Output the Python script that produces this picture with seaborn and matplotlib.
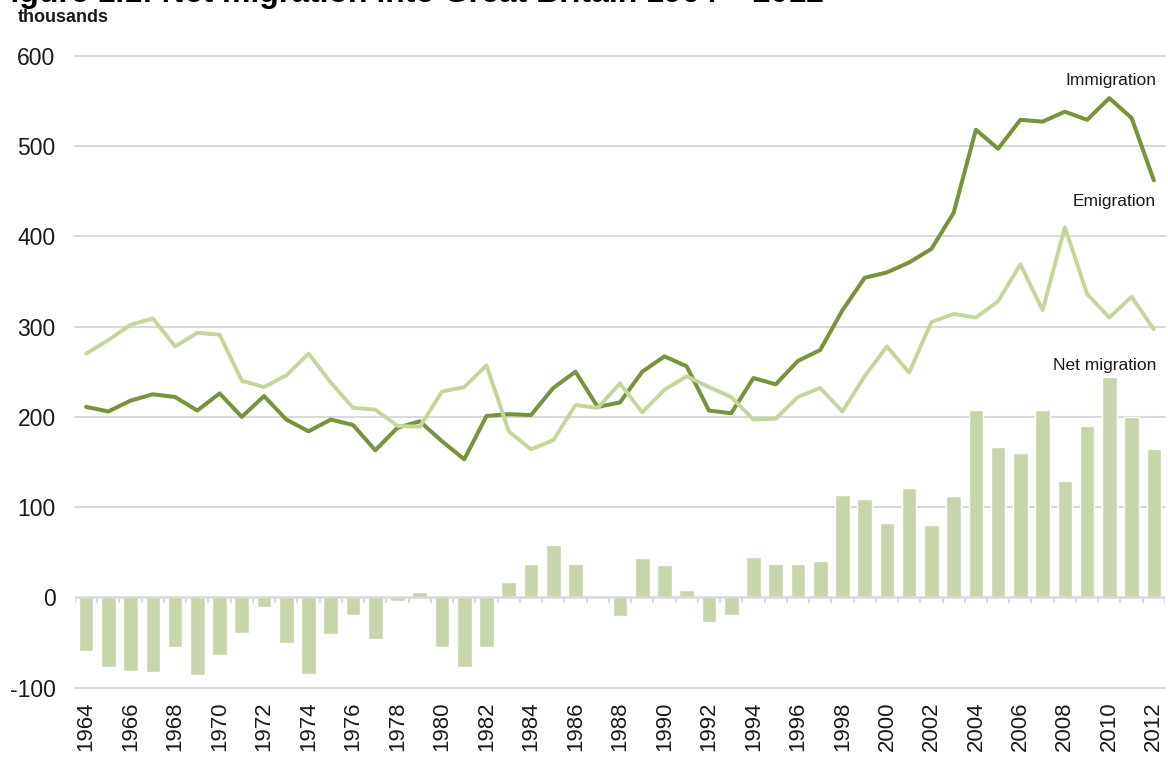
import numpy as np
import pandas as pd
import matplotlib
matplotlib.use("Agg")
import matplotlib.pyplot as plt
import seaborn as sns

# Data (thousands)
years = list(range(1964, 2013))
immigration = [211, 206, 218, 225, 222, 207, 226, 200, 223, 197,
               184, 197, 191, 163, 188, 195, 173, 153, 201, 203,
               202, 232, 250, 211, 216, 250, 267, 256, 207, 204,
               243, 236, 262, 274, 318, 354, 360, 371, 386, 426,
               518, 497, 529, 527, 538, 529, 553, 531, 462]
emigration = [270, 285, 302, 309, 278, 293, 291, 240, 233, 246,
              270, 238, 210, 208, 190, 189, 228, 233, 257, 184,
              164, 174, 213, 210, 237, 205, 230, 245, 233, 222,
              197, 198, 222, 232, 206, 245, 278, 249, 305, 314,
              310, 328, 369, 318, 410, 336, 310, 333, 297]
net_migration = [-59, -77, -81, -83, -55, -86, -64, -39, -11, -50,
                 -85, -41, -19, -46, -4, 6, -55, -77, -55, 17,
                 37, 58, 37, 2, -21, 44, 36, 8, -27, -19,
                 45, 37, 37, 40, 113, 109, 82, 121, 80, 112,
                 208, 167, 160, 208, 129, 190, 244, 200, 164]
series_labels = ["Immigration", "Emigration", "Net migration"]
label_y = [572, 438, 257]

dark_green = "#77933c"
light_green = "#c3d69b"
bar_green = "#c7d6aa"
grid_grey = "#d9d9d9"

df = pd.DataFrame({"year": years, "pos": np.arange(len(years)),
                   "immigration": immigration, "emigration": emigration,
                   "net": net_migration})

sns.set_style("white")
plt.rcParams["font.family"] = ["Liberation Sans", "DejaVu Sans"]

fig = plt.figure(figsize=(11.68, 7.6), dpi=100)
ax = fig.add_axes([0.0642, 0.0951, 0.9332, 0.8316])

# grid lines
for v in range(-100, 601, 100):
    if v != 0:
        ax.axhline(v, color=grid_grey, lw=1.5, zorder=0, clip_on=False)

# net migration bars
sns.barplot(data=df, x="pos", y="net", color=bar_green, width=0.66,
            saturation=1, ax=ax, zorder=1)

# zero axis line with tick marks between categories
ax.axhline(0, color=grid_grey, lw=1.8, zorder=2)
ax.vlines(np.arange(len(years) + 1) - 0.5, -6, 0, color=grid_grey, lw=1.5, zorder=2)

# lines
sns.lineplot(data=df, x="pos", y="immigration", color=dark_green, lw=2.9, ax=ax, zorder=3)
sns.lineplot(data=df, x="pos", y="emigration", color=light_green, lw=2.8, ax=ax, zorder=4)

ax.set_xlim(-0.5, len(years) - 0.5)
ax.set_ylim(-100, 600)
ax.set_yticks(range(-100, 601, 100))
ax.set_yticklabels([str(v) for v in range(-100, 601, 100)], fontsize=16.5, color="#1a1a1a")
tick_pos = df["pos"][::2]
ax.set_xticks(tick_pos)
ax.set_xticklabels([str(y) for y in years[::2]], rotation=90, fontsize=16, color="#1a1a1a")
ax.tick_params(axis="x", length=0, pad=10)
ax.tick_params(axis="y", length=0, pad=14)
ax.set_xlabel("")
ax.set_ylabel("")
sns.despine(ax=ax, left=True, bottom=True, right=True, top=True)

# series labels
for lab, ly in zip(series_labels, label_y):
    ax.text(len(years) - 1 + 0.1, ly, lab, ha="right", va="center",
            fontsize=12.5, color="#1a1a1a")

fig.text(0.0154, 1 - 17 / 760, "thousands", fontsize=13, fontweight="bold",
         ha="left", va="center", color="#1a1a1a")
# title sits mostly above the top edge, as in the source image
fig.text(-0.008, 1 - 2 / 760, "Figure 1.1: Net migration into Great Britain 1964 \u2013 2012",
         fontsize=23, fontweight="bold", ha="left", va="baseline", color="black")

fig.savefig("out.png", dpi=100)
